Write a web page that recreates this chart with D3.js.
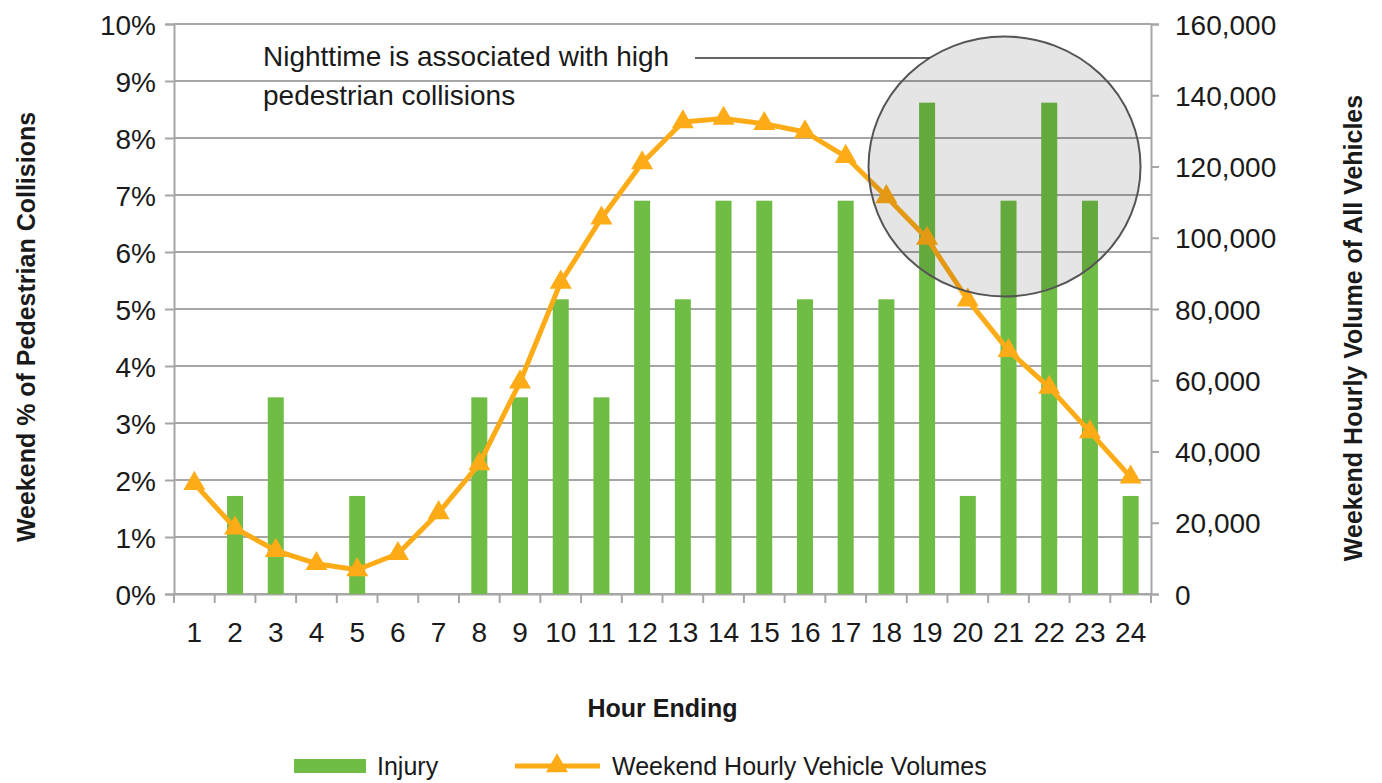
<!DOCTYPE html>
<html>
<head>
<meta charset="utf-8">
<script src="https://cdn.jsdelivr.net/npm/d3@7"></script>
<style>
  body { margin: 0; background: #fff; }
  text { font-family: "Liberation Sans", Arial, sans-serif; fill: #1a1a1a; }
</style>
</head>
<body>
<script>
// data
var hours = ["1","2","3","4","5","6","7","8","9","10","11","12","13","14","15","16","17","18","19","20","21","22","23","24"];
var injury = [0, 1.72, 3.45, 0, 1.72, 0, 0, 3.45, 3.45, 5.17, 3.45, 6.90, 5.17, 6.90, 6.90, 5.17, 6.90, 5.17, 8.62, 1.72, 6.90, 8.62, 6.90, 1.72];
var volumes = [31000, 18500, 12200, 8500, 6800, 11300, 22800, 36500, 59500, 87500, 105500, 121000, 132500, 133500, 132000, 129700, 122800, 111500, 99800, 82500, 68300, 58000, 45500, 32800];
var leftTicks = [0,1,2,3,4,5,6,7,8,9,10];
var rightTicks = [0,20000,40000,60000,80000,100000,120000,140000,160000];

var width = 1382, height = 783;
var pLeft = 174, pRight = 1151, pTop = 24, pBottom = 594;
var green = "#6fbd44", orange = "#fdab17", grid = "#a6a6a6";

var svg = d3.select("body").append("svg")
    .attr("width", width)
    .attr("height", height);

var x = d3.scaleBand().domain(hours).range([pLeft, pRight]);
var yL = d3.scaleLinear().domain([0, 10]).range([pBottom, pTop]);
var yR = d3.scaleLinear().domain([0, 160000]).range([pBottom, pTop]);
var bw = x.bandwidth();

// gridlines
svg.append("g").selectAll("line")
    .data(leftTicks)
    .enter().append("line")
    .attr("x1", pLeft).attr("x2", pRight)
    .attr("y1", function(d) { return yL(d); })
    .attr("y2", function(d) { return yL(d); })
    .attr("stroke", grid).attr("stroke-width", 2);

// left axis
var axL = svg.append("g")
    .attr("transform", "translate(" + pLeft + ",0)")
    .call(d3.axisLeft(yL).tickValues(leftTicks).tickSize(9).tickPadding(9)
        .tickFormat(function(d) { return d + "%"; }));
axL.selectAll("text").style("font-size", "28px").attr("dy", "0.36em");

// right axis
var axR = svg.append("g")
    .attr("transform", "translate(" + pRight + ",0)")
    .call(d3.axisRight(yR).tickValues(rightTicks).tickSize(8).tickPadding(16)
        .tickFormat(d3.format(",")));
axR.selectAll("text").style("font-size", "28px").attr("dy", "0.36em");

// bottom axis, ticks between categories
var axB = svg.append("g")
    .attr("transform", "translate(0," + pBottom + ")")
    .call(d3.axisBottom(x).tickSize(0).tickPadding(28));
axB.selectAll("text").style("font-size", "28px");
axB.selectAll(".tick").append("line")
    .attr("x1", -bw / 2).attr("x2", -bw / 2)
    .attr("y1", 0).attr("y2", 9);
axB.append("line")
    .attr("x1", pRight).attr("x2", pRight).attr("y1", 0).attr("y2", 9);

[axL, axR, axB].forEach(function(a) {
    a.selectAll("line").attr("stroke", grid).attr("stroke-width", 2);
    a.select(".domain").attr("stroke", grid).attr("stroke-width", 2);
    a.selectAll("text").attr("fill", "#1a1a1a");
});

// bars
svg.append("g").selectAll("rect")
    .data(injury)
    .enter().append("rect")
    .attr("x", function(d, i) { return x(hours[i]) + bw / 2 - 8; })
    .attr("width", 16)
    .attr("y", function(d) { return yL(d); })
    .attr("height", function(d) { return yL(0) - yL(d); })
    .attr("fill", green);

// volume line
var line = d3.line()
    .x(function(d, i) { return x(hours[i]) + bw / 2; })
    .y(function(d) { return yR(d); });

svg.append("path")
    .datum(volumes)
    .attr("d", line)
    .attr("fill", "none")
    .attr("stroke", orange)
    .attr("stroke-width", 5)
    .attr("stroke-linejoin", "round");

var tri = d3.symbol().type(d3.symbolTriangle).size(210);
svg.append("g").selectAll("path")
    .data(volumes)
    .enter().append("path")
    .attr("d", tri)
    .attr("transform", function(d, i) { return "translate(" + (x(hours[i]) + bw / 2) + "," + yR(d) + ")"; })
    .attr("fill", orange);

// annotation circle over the night hours
var cx = x("21") + bw / 2 - 4, cy = yL(7.5);
svg.append("ellipse")
    .attr("cx", cx).attr("cy", cy)
    .attr("rx", 136).attr("ry", 130)
    .attr("fill", "#000").attr("fill-opacity", 0.1)
    .attr("stroke", "#555").attr("stroke-width", 2);

svg.append("line")
    .attr("x1", 695).attr("x2", cx - 136 * Math.sqrt(1 - Math.pow((cy - 58) / 130, 2)))
    .attr("y1", 58).attr("y2", 58)
    .attr("stroke", "#333").attr("stroke-width", 1.5);

var note = svg.append("text").attr("x", 263).attr("y", 66).style("font-size", "28px");
note.append("tspan").attr("x", 263).text("Nighttime is associated with high");
note.append("tspan").attr("x", 263).attr("dy", 39).text("pedestrian collisions");

// axis titles
svg.append("text")
    .attr("transform", "translate(35,327) rotate(-90)")
    .attr("text-anchor", "middle")
    .style("font-size", "25px").style("font-weight", "bold")
    .text("Weekend % of Pedestrian Collisions");

svg.append("text")
    .attr("transform", "translate(1362,328) rotate(-90)")
    .attr("text-anchor", "middle")
    .style("font-size", "25px").style("font-weight", "bold")
    .text("Weekend Hourly Volume of All Vehicles");

svg.append("text")
    .attr("x", (pLeft + pRight) / 2).attr("y", 717)
    .attr("text-anchor", "middle")
    .style("font-size", "25px").style("font-weight", "bold")
    .text("Hour Ending");

// legend
var lg = svg.append("g");
lg.append("rect").attr("x", 294).attr("y", 759).attr("width", 72).attr("height", 14).attr("fill", green);
lg.append("text").attr("x", 377).attr("y", 775).style("font-size", "25px").text("Injury");
lg.append("line").attr("x1", 515).attr("x2", 600).attr("y1", 766).attr("y2", 766)
    .attr("stroke", orange).attr("stroke-width", 5);
lg.append("path").attr("d", tri).attr("transform", "translate(557,766)").attr("fill", orange);
lg.append("text").attr("x", 612).attr("y", 775).style("font-size", "25px").text("Weekend Hourly Vehicle Volumes");
</script>
</body>
</html>
